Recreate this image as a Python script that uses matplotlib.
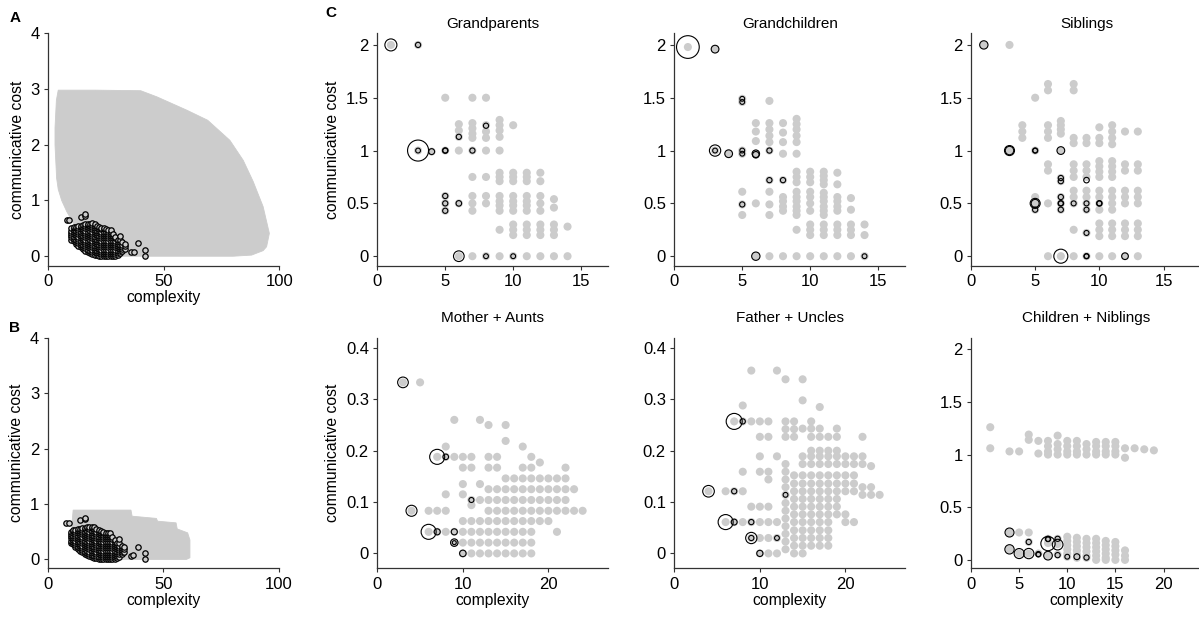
import matplotlib
matplotlib.use("Agg")
import matplotlib.pyplot as plt

plt.rcParams['font.family'] = ['Liberation Sans', 'DejaVu Sans']

GREY = '#cccccc'

# ---------------- Panel A / B data ----------------
# outline of the cloud of all possible systems (complexity, cost)
cloud_a_x = [4.3, 3.5, 2.9, 2.9, 3.6, 4.3, 5.8, 8.0, 10.8, 13.7, 16.0, 19.5, 23.0, 26.7, 30.0,
             80.0, 88.0, 93.0, 94.5, 95.7, 93.0, 88.7, 84.4, 78.6, 69.0, 60.0, 47.0, 40.0, 20.0]
cloud_a_y = [2.98, 2.8, 2.3, 2.0, 1.4, 1.2, 1.0, 0.8, 0.6, 0.41, 0.3, 0.17, 0.08, 0.02, 0.0,
             0.0, 0.02, 0.1, 0.17, 0.41, 0.89, 1.34, 1.72, 2.08, 2.44, 2.62, 2.86, 2.97, 2.98]
cloud_b_x = [10.4, 11.0, 36.0, 36.5, 47.0, 47.5, 55.5, 56.0, 60.5, 61.5, 61.5, 60.0, 25.0, 22.0, 17.0, 12.5]
cloud_b_y = [0.6, 0.89, 0.89, 0.78, 0.74, 0.69, 0.66, 0.55, 0.48, 0.35, 0.03, 0.0, 0.0, 0.03, 0.18, 0.36]

# attested languages (complexity -> costs)
lang_cols = {
    8: [0.65], 9: [0.65],
    10: [0.3, 0.34, 0.38, 0.42, 0.46, 0.5],
    11: [0.27, 0.31, 0.35, 0.39, 0.43, 0.47, 0.51, 0.53],
    12: [0.22, 0.26, 0.3, 0.34, 0.38, 0.42, 0.46, 0.5, 0.53],
    13: [0.19, 0.23, 0.27, 0.31, 0.35, 0.39, 0.43, 0.47, 0.51, 0.54],
    14: [0.16, 0.2, 0.24, 0.28, 0.32, 0.36, 0.4, 0.44, 0.48, 0.52, 0.55, 0.71],
    15: [0.13, 0.17, 0.21, 0.25, 0.29, 0.33, 0.37, 0.41, 0.45, 0.49, 0.53, 0.56],
    16: [0.1, 0.14, 0.18, 0.22, 0.26, 0.3, 0.34, 0.38, 0.42, 0.46, 0.5, 0.54, 0.57, 0.73, 0.75],
    17: [0.08, 0.12, 0.16, 0.2, 0.24, 0.28, 0.32, 0.36, 0.4, 0.44, 0.48, 0.52, 0.56, 0.58],
    18: [0.06, 0.1, 0.14, 0.18, 0.22, 0.26, 0.3, 0.34, 0.38, 0.42, 0.46, 0.5, 0.54, 0.58],
    19: [0.04, 0.08, 0.12, 0.16, 0.2, 0.24, 0.28, 0.32, 0.36, 0.4, 0.44, 0.48, 0.52, 0.56, 0.59],
    20: [0.03, 0.07, 0.11, 0.15, 0.19, 0.23, 0.27, 0.31, 0.35, 0.39, 0.43, 0.47, 0.51, 0.55, 0.58],
    21: [0.02, 0.06, 0.1, 0.14, 0.18, 0.22, 0.26, 0.3, 0.34, 0.38, 0.42, 0.46, 0.5, 0.54],
    22: [0.01, 0.05, 0.09, 0.13, 0.17, 0.21, 0.25, 0.29, 0.33, 0.37, 0.41, 0.45, 0.49, 0.53],
    23: [0.0, 0.04, 0.08, 0.12, 0.16, 0.2, 0.24, 0.28, 0.32, 0.36, 0.4, 0.44, 0.48, 0.51],
    24: [0.0, 0.04, 0.08, 0.12, 0.16, 0.2, 0.24, 0.28, 0.32, 0.36, 0.4, 0.44, 0.48, 0.5],
    25: [0.0, 0.04, 0.08, 0.12, 0.16, 0.2, 0.24, 0.28, 0.32, 0.36, 0.4, 0.44, 0.48],
    26: [0.0, 0.04, 0.08, 0.12, 0.16, 0.2, 0.24, 0.28, 0.32, 0.36, 0.4, 0.44, 0.47],
    27: [0.0, 0.04, 0.08, 0.12, 0.16, 0.2, 0.24, 0.28, 0.32, 0.36, 0.4, 0.44, 0.47],
    28: [0.0, 0.04, 0.08, 0.12, 0.16, 0.2, 0.24, 0.28, 0.32, 0.36, 0.4],
    29: [0.0, 0.04, 0.08, 0.12, 0.16, 0.2, 0.24, 0.28, 0.32, 0.35],
    30: [0.02, 0.06, 0.1, 0.14, 0.18, 0.22, 0.26, 0.3],
    31: [0.05, 0.09, 0.13, 0.17, 0.21, 0.25, 0.29, 0.36],
    32: [0.09, 0.13, 0.17, 0.21, 0.25],
    33: [0.13, 0.18, 0.22],
    36: [0.07], 37: [0.08], 39: [0.23], 42: [0.12, 0.01],
}

# ---------------- Panel C data ----------------
gp_grey = {
    1: [2.0], 3: [2.0, 1.0], 4: [0.99],
    5: [1.5, 1.0, 0.57, 0.5, 0.43],
    6: [1.25, 1.19, 1.13, 1.0, 0.5, 0.0],
    7: [1.5, 1.26, 1.21, 1.16, 1.12, 1.0, 0.75, 0.57, 0.5, 0.43, 0.0],
    8: [1.5, 1.24, 1.18, 1.12, 1.0, 0.75, 0.57, 0.5, 0.0],
    9: [1.29, 1.24, 1.19, 1.13, 1.0, 0.79, 0.75, 0.71, 0.57, 0.52, 0.48, 0.43, 0.25, 0.0],
    10: [1.24, 0.79, 0.75, 0.71, 0.57, 0.52, 0.48, 0.43, 0.3, 0.25, 0.2, 0.0],
    11: [0.79, 0.75, 0.71, 0.57, 0.52, 0.48, 0.43, 0.3, 0.25, 0.2, 0.0],
    12: [0.79, 0.71, 0.57, 0.5, 0.43, 0.3, 0.25, 0.2, 0.0],
    13: [0.54, 0.46, 0.3, 0.25, 0.2, 0.0],
    14: [0.28, 0.0],
}
gp_lang_x = [1, 3, 3, 3, 4, 5, 5, 5, 5, 5, 6, 6, 6, 7, 8, 8, 10]
gp_lang_y = [2.0, 2.0, 1.0, 1.0, 0.99, 1.0, 1.0, 0.57, 0.5, 0.43, 1.13, 0.5, 0.0, 1.0, 1.235, 0.0, 0.0]
gp_lang_n = [75, 14, 229, 12, 18, 12, 16, 14, 14, 14, 14, 16, 59, 14, 14, 12, 12]

gc_grey = {
    1: [1.98], 3: [1.96, 1.0], 4: [0.97],
    5: [1.49, 1.46, 1.0, 0.97, 0.61, 0.49, 0.39],
    6: [1.26, 1.18, 1.09, 0.97, 0.5, 0.0],
    7: [1.47, 1.26, 1.2, 1.14, 1.08, 1.0, 0.72, 0.61, 0.49, 0.39, 0.0],
    8: [1.26, 1.17, 1.08, 0.97, 0.72, 0.56, 0.52, 0.47, 0.43, 0.0],
    9: [1.3, 1.25, 1.2, 1.14, 1.08, 0.97, 0.8, 0.75, 0.7, 0.61, 0.56, 0.52, 0.47, 0.43, 0.39, 0.25, 0.0],
    10: [0.8, 0.75, 0.7, 0.61, 0.56, 0.5, 0.43, 0.3, 0.25, 0.2, 0.0],
    11: [0.8, 0.76, 0.72, 0.68, 0.6, 0.56, 0.52, 0.47, 0.43, 0.39, 0.3, 0.25, 0.2, 0.0],
    12: [0.79, 0.68, 0.56, 0.52, 0.47, 0.43, 0.3, 0.25, 0.2, 0.0],
    13: [0.55, 0.44, 0.3, 0.25, 0.2, 0.0],
    14: [0.3, 0.2, 0.0],
}
gc_lang_x = [1, 3, 3, 3, 4, 5, 5, 5, 5, 6, 6, 7, 7, 8, 5, 6, 14]
gc_lang_y = [1.98, 1.96, 1.0, 1.0, 0.97, 1.49, 1.46, 1.0, 0.97, 0.97, 0.96, 1.0, 0.72, 0.72, 0.49, 0.0, 0.0]
gc_lang_n = [267, 31, 66, 12, 31, 12, 12, 12, 12, 29, 22, 14, 14, 14, 14, 36, 12]

sib_grey = {
    1: [2.0], 3: [2.0, 1.0],
    4: [1.24, 1.18, 1.12],
    5: [1.5, 1.0, 0.56, 0.5, 0.44],
    6: [1.63, 1.57, 1.24, 1.18, 1.12, 0.87, 0.81, 0.5, 0.0],
    7: [1.28, 1.24, 1.2, 1.16, 1.0, 0.74, 0.71, 0.56, 0.5, 0.44, 0.0],
    8: [1.63, 1.57, 1.12, 1.07, 0.87, 0.81, 0.75, 0.62, 0.56, 0.5, 0.25, 0.0],
    9: [1.12, 1.07, 0.87, 0.81, 0.75, 0.62, 0.56, 0.5, 0.44, 0.22, 0.0],
    10: [1.22, 1.12, 1.07, 0.9, 0.85, 0.8, 0.75, 0.62, 0.56, 0.5, 0.44, 0.31, 0.25, 0.19, 0.0],
    11: [1.24, 1.18, 1.12, 1.06, 0.9, 0.85, 0.8, 0.75, 0.62, 0.56, 0.5, 0.44, 0.31, 0.25, 0.19, 0.0],
    12: [1.18, 0.87, 0.81, 0.62, 0.56, 0.5, 0.31, 0.25, 0.19, 0.0],
    13: [1.18, 0.87, 0.81, 0.62, 0.56, 0.5, 0.31, 0.25, 0.19, 0.0],
}
sib_lang_x = [1, 3, 3, 5, 5, 5, 5, 5, 7, 7, 7, 7, 7, 7, 7, 8, 9, 9, 9, 9, 10, 10, 7, 9, 9, 12]
sib_lang_y = [2.0, 1.0, 1.0, 1.0, 1.0, 0.5, 0.5, 0.44, 1.0, 0.74, 0.71, 0.56, 0.5, 0.5, 0.44,
              0.5, 0.72, 0.5, 0.44, 0.22, 0.5, 0.5, 0.0, 0.0, 0.0, 0.0]
sib_lang_n = [36, 52, 37, 14, 11, 52, 33, 14, 31, 14, 14, 14, 16, 12, 14,
              13, 16, 13, 13, 13, 16, 12, 102, 14, 11, 23]

ma_grey = {
    3: [0.333], 4: [0.083], 5: [0.333],
    6: [0.083, 0.042],
    7: [0.188, 0.083, 0.042],
    8: [0.208, 0.188, 0.115, 0.083, 0.042],
    9: [0.26, 0.188, 0.042, 0.021],
    10: [0.188, 0.167, 0.135, 0.115, 0.063, 0.042, 0.021, 0.0],
    11: [0.188, 0.167, 0.104, 0.094, 0.063, 0.042, 0.021, 0.0],
    12: [0.26, 0.135, 0.104, 0.063, 0.042, 0.021, 0.0],
    13: [0.25, 0.188, 0.167, 0.125, 0.104, 0.083, 0.063, 0.042, 0.021, 0.0],
    14: [0.188, 0.167, 0.125, 0.104, 0.083, 0.063, 0.042, 0.021, 0.0],
    15: [0.25, 0.219, 0.146, 0.125, 0.104, 0.083, 0.063, 0.042, 0.021, 0.0],
    16: [0.146, 0.125, 0.104, 0.083, 0.063, 0.042, 0.021, 0.0],
    17: [0.208, 0.167, 0.146, 0.125, 0.104, 0.083, 0.063, 0.042, 0.021, 0.0],
    18: [0.188, 0.167, 0.146, 0.125, 0.104, 0.083, 0.063, 0.042, 0.021, 0.0],
    19: [0.177, 0.146, 0.125, 0.104, 0.083, 0.063],
    20: [0.146, 0.125, 0.104, 0.083, 0.063],
    21: [0.146, 0.125, 0.104, 0.083, 0.042],
    22: [0.167, 0.146, 0.125, 0.104, 0.083],
    23: [0.125, 0.083],
    24: [0.083],
}
ma_lang_x = [3, 4, 6, 7, 7, 8, 9, 9, 9, 10, 11]
ma_lang_y = [0.333, 0.083, 0.042, 0.188, 0.042, 0.188, 0.042, 0.021, 0.021, 0.0, 0.104]
ma_lang_n = [59, 63, 117, 117, 19, 16, 19, 29, 8, 22, 13]

fu_grey = {
    4: [0.121],
    6: [0.121, 0.061],
    7: [0.257, 0.121, 0.061],
    8: [0.288, 0.257, 0.159, 0.121, 0.061],
    9: [0.356, 0.257, 0.091, 0.061, 0.03],
    10: [0.257, 0.227, 0.189, 0.159, 0.091, 0.061, 0.03, 0.0],
    11: [0.257, 0.227, 0.159, 0.144, 0.091, 0.061, 0.03, 0.0],
    12: [0.356, 0.189, 0.061, 0.03, 0.0],
    13: [0.339, 0.257, 0.242, 0.227, 0.174, 0.159, 0.144, 0.129, 0.114, 0.098, 0.083, 0.068,
         0.053, 0.038, 0.023, 0.008],
    14: [0.257, 0.242, 0.227, 0.152, 0.136, 0.121, 0.106, 0.091, 0.076, 0.061, 0.045, 0.03, 0.015, 0.0],
    15: [0.339, 0.298, 0.243, 0.189, 0.174, 0.152, 0.136, 0.121, 0.106, 0.091, 0.076, 0.061, 0.045,
         0.03, 0.015, 0.0],
    16: [0.257, 0.243, 0.227, 0.2, 0.189, 0.174, 0.152, 0.136, 0.121, 0.106, 0.091, 0.076, 0.061,
         0.045, 0.03, 0.015],
    17: [0.285, 0.243, 0.227, 0.2, 0.189, 0.174, 0.152, 0.136, 0.121, 0.106, 0.091, 0.076, 0.061,
         0.045, 0.03, 0.015],
    18: [0.227, 0.2, 0.189, 0.174, 0.152, 0.136, 0.121, 0.106, 0.091, 0.076, 0.061, 0.045, 0.03, 0.015],
    19: [0.243, 0.227, 0.2, 0.189, 0.174, 0.152, 0.136, 0.121, 0.106, 0.091, 0.076],
    20: [0.189, 0.174, 0.152, 0.136, 0.121, 0.076, 0.061],
    21: [0.189, 0.174, 0.152, 0.136, 0.121, 0.061],
    22: [0.227, 0.189, 0.174, 0.129, 0.114],
    23: [0.17, 0.129, 0.114],
    24: [0.114],
}
fu_lang_x = [4, 6, 7, 7, 7, 8, 9, 9, 9, 10, 12, 13]
fu_lang_y = [0.121, 0.061, 0.257, 0.121, 0.061, 0.257, 0.061, 0.03, 0.03, 0.0, 0.03, 0.114]
fu_lang_n = [70, 117, 133, 14, 18, 14, 14, 66, 14, 20, 12, 12]

cn_grey = {
    2: [1.26, 1.06],
    4: [1.03, 0.26, 0.1],
    5: [1.03, 0.26, 0.06],
    6: [1.19, 1.14, 0.26, 0.17, 0.06],
    7: [1.13, 1.01, 0.06],
    8: [1.13, 1.08, 1.03, 1.0, 0.2, 0.16, 0.04],
    9: [1.18, 1.1, 1.05, 1.0, 0.2, 0.15, 0.05],
    10: [1.13, 1.08, 1.03, 1.0, 0.22, 0.18, 0.14, 0.1, 0.06, 0.03],
    11: [1.13, 1.08, 1.03, 1.0, 0.21, 0.17, 0.13, 0.09, 0.05, 0.02],
    12: [1.1, 1.05, 1.0, 0.2, 0.16, 0.12, 0.08, 0.04, 0.02],
    13: [1.12, 1.08, 1.03, 1.0, 0.2, 0.16, 0.12, 0.08, 0.04, 0.0],
    14: [1.12, 1.08, 1.03, 1.0, 0.18, 0.14, 0.1, 0.06, 0.02, 0.0],
    15: [1.12, 1.08, 1.03, 1.0, 0.17, 0.13, 0.09, 0.05, 0.0],
    16: [1.06, 0.97, 0.09, 0.04, 0.0],
    17: [1.06], 18: [1.05], 19: [1.04],
}
cn_lang_x = [4, 4, 5, 6, 6, 7, 7, 8, 8, 8, 8, 9, 9, 9, 10, 11, 12]
cn_lang_y = [0.26, 0.1, 0.06, 0.06, 0.17, 0.055, 0.05, 0.2, 0.195, 0.155, 0.04, 0.2, 0.145, 0.045,
             0.03, 0.03, 0.022]
cn_lang_n = [42, 45, 52, 55, 14, 14, 11, 14, 11, 106, 39, 14, 59, 14, 12, 18, 14]

# ---------------- figure ----------------
W, H = 1199, 619
fig = plt.figure(figsize=(W / 100, H / 100), dpi=100)


def add_ax(left, top, right, bottom):
    return fig.add_axes([left / W, 1 - bottom / H, (right - left) / W, (bottom - top) / H])


def style(ax):
    for s in ['top', 'right']:
        ax.spines[s].set_visible(False)
    for s in ['left', 'bottom']:
        ax.spines[s].set_color('#333333')
        ax.spines[s].set_linewidth(0.9)
    ax.tick_params(direction='out', length=3, width=0.8, color='#333333', labelsize=12, pad=3)


def fmt(v):
    return ('%g' % v)


def scatter_panel(ax, grey, lx, ly, ln):
    gx, gy = [], []
    for x, ys in grey.items():
        for y in ys:
            gx.append(x)
            gy.append(y)
    ax.scatter(gx, gy, s=34, c=GREY, edgecolors='none', zorder=1)
    ax.scatter(lx, ly, s=ln, facecolors='none', edgecolors='black', linewidths=0.8, zorder=2)


def lang_points():
    xs, ys = [], []
    for x, vals in lang_cols.items():
        for v in vals:
            xs.append(x)
            ys.append(v)
    return xs, ys


lx, ly = lang_points()
for cx, cy, box, ylo in [(cloud_a_x, cloud_a_y, (48.3, 33.3, 279.3, 265.7), -0.17),
                         (cloud_b_x, cloud_b_y, (47.7, 337.7, 279.0, 568.3), -0.16)]:
    ax = add_ax(*box)
    ax.fill(cx, cy, color=GREY, lw=0.6, ec=GREY, zorder=1)
    ax.scatter(lx, ly, s=15, facecolors=GREY, edgecolors='black', linewidths=0.9, zorder=2)
    ax.set_xlim(0, 100)
    ax.set_ylim(ylo, 4.0)
    ax.set_xticks([0, 50, 100])
    ax.set_yticks([0, 1, 2, 3, 4])
    ax.set_xlabel('complexity', fontsize=11.3, labelpad=1)
    ax.set_ylabel('communicative cost', fontsize=11.3)
    style(ax)

fig.text(15 / W, 1 - 18 / H, 'A', fontsize=11, fontweight='bold', ha='center', va='center')
fig.text(14 / W, 1 - 328 / H, 'B', fontsize=11, fontweight='bold', ha='center', va='center')
fig.text(331 / W, 1 - 13 / H, 'C', fontsize=11, fontweight='bold', ha='center', va='center')

lefts = [377.3, 674.3, 971.0]
width = 231.0
top_panels = [
    ('Grandparents', gp_grey, gp_lang_x, gp_lang_y, gp_lang_n, 17),
    ('Grandchildren', gc_grey, gc_lang_x, gc_lang_y, gc_lang_n, 17),
    ('Siblings', sib_grey, sib_lang_x, sib_lang_y, sib_lang_n, 18),
]
for i, (title, grey, gx, gy, gn, xmax) in enumerate(top_panels):
    ax = add_ax(lefts[i], 33.3, lefts[i] + width, 265.7)
    scatter_panel(ax, grey, gx, gy, gn)
    ax.set_xlim(0, xmax)
    ax.set_ylim(-0.09, 2.11)
    ax.set_xticks([0, 5, 10, 15])
    ax.set_yticks([0, 0.5, 1, 1.5, 2])
    ax.set_yticklabels([fmt(v) for v in [0, 0.5, 1, 1.5, 2]])
    ax.set_title(title, fontsize=11, pad=4)
    if i == 0:
        ax.set_ylabel('communicative cost', fontsize=11.3)
    style(ax)

bottom_panels = [
    ('Mother + Aunts', ma_grey, ma_lang_x, ma_lang_y, ma_lang_n),
    ('Father + Uncles', fu_grey, fu_lang_x, fu_lang_y, fu_lang_n),
    ('Children + Niblings', cn_grey, cn_lang_x, cn_lang_y, cn_lang_n),
]
for i, (title, grey, gx, gy, gn) in enumerate(bottom_panels):
    ax = add_ax(lefts[i], 337.7, lefts[i] + width, 568.3)
    scatter_panel(ax, grey, gx, gy, gn)
    if i < 2:
        ax.set_xlim(0, 27)
        ax.set_ylim(-0.029, 0.42)
        ax.set_xticks([0, 10, 20])
        yt = [0, 0.1, 0.2, 0.3, 0.4]
    else:
        ax.set_xlim(0, 24)
        ax.set_ylim(-0.08, 2.11)
        ax.set_xticks([0, 5, 10, 15, 20])
        yt = [0, 0.5, 1, 1.5, 2]
    ax.set_yticks(yt)
    ax.set_yticklabels([fmt(v) for v in yt])
    ax.set_title(title, fontsize=11, pad=11)
    ax.set_xlabel('complexity', fontsize=11.3, labelpad=1)
    if i == 0:
        ax.set_ylabel('communicative cost', fontsize=11.3)
    style(ax)

fig.savefig('out.png', dpi=100)
